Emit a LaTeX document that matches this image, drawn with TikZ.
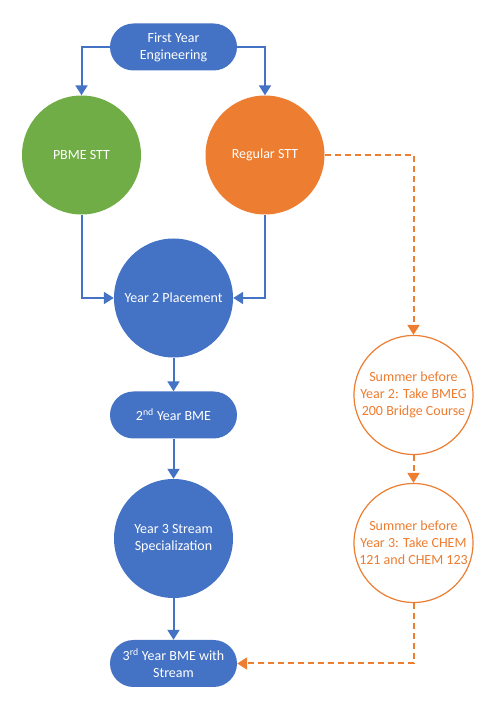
\documentclass[tikz,border=0pt]{standalone}
\usepackage{fontspec}
\setmainfont{Carlito}
\usetikzlibrary{arrows.meta, positioning}
\definecolor{kblue}{HTML}{4472C4}
\definecolor{kgreen}{HTML}{70AD47}
\definecolor{korange}{HTML}{ED7D31}

\begin{document}
\begin{tikzpicture}[x=1pt, y=1pt,
  pill/.style={fill=kblue, rounded corners=23.5pt, minimum width=127pt, minimum height=47pt,
    inner sep=2pt, text=white, align=center, font=\fontsize{14}{17}\selectfont},
  disc/.style={circle, minimum size=119pt, inner sep=0pt, text=white, align=center,
    font=\fontsize{14}{17}\selectfont},
  ring/.style={circle, draw=korange, fill=white, line width=1.2pt, minimum size=119pt,
    inner sep=0pt, text=korange, align=center, font=\fontsize{14}{17}\selectfont},
  flow/.style={kblue, line width=2pt, -{Triangle[width=12pt, length=10pt]}},
  alt/.style={korange, line width=2pt, dash pattern=on 6pt off 4pt,
    -{Triangle[width=12pt, length=10pt]}}]
\useasboundingbox (0,0) rectangle (488,702);
% main path
\node[pill] (first) at (173.5,655) {First Year\\Engineering};
\node[disc, fill=kgreen] (pbme) at (81.5,547) {PBME STT};
\node[disc, fill=korange] (reg) at (265,547) {Regular STT};
\node[disc, fill=kblue] (place) at (173.5,404) {Year 2 Placement};
\node[pill] (second) at (173.5,287) {2\textsuperscript{nd} Year BME};
\node[disc, fill=kblue] (stream) at (173.5,163.5) {Year 3 Stream\\Specialization};
\node[pill] (third) at (173.5,38.5) {3\textsuperscript{rd} Year BME with\\Stream};
% bridge courses
\node[ring] (sumtwo) at (413.5,307) {Summer before\\Year 2: Take BMEG\\200 Bridge Course};
\node[ring] (sumthree) at (413.5,159) {Summer before\\Year 3: Take CHEM\\121 and CHEM 123};

\draw[flow] (first.west) -| (pbme.north);
\draw[flow] (first.east) -| (reg.north);
\draw[flow] (pbme.south) |- (place.west);
\draw[flow] (reg.south) |- (place.east);
\draw[flow] (place) -- (second);
\draw[flow] (second) -- (stream);
\draw[flow] (stream) -- (third);

\draw[alt] (reg.east) -| (sumtwo.north);
\draw[alt] (sumtwo) -- (sumthree);
\draw[alt] (sumthree.south) |- (third.east);
\end{tikzpicture}
\end{document}
